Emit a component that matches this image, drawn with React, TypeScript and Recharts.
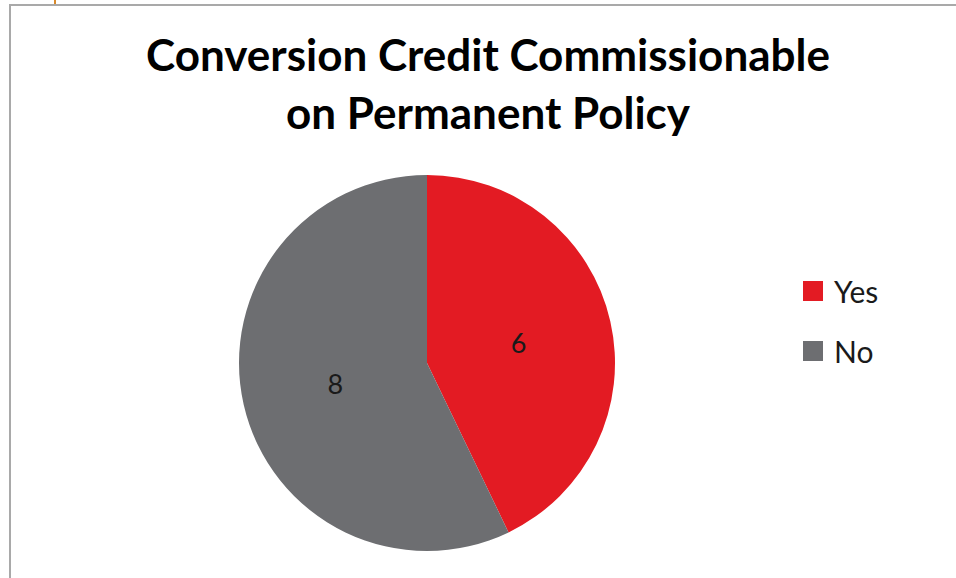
import { PieChart, Pie, Cell, Legend } from "recharts";

const categories = ["Yes", "No"];
const counts = [6, 8];
const sliceColors = ["#E31B23", "#6D6E71"];

const data = categories.map((name, i) => ({ name, value: counts[i] }));

const RADIAN = Math.PI / 180;

function renderLabel(props: any) {
  const { cx, cy, midAngle, outerRadius, value } = props;
  const r = outerRadius * 0.5;
  const x = cx + r * Math.cos(-midAngle * RADIAN);
  const y = cy + r * Math.sin(-midAngle * RADIAN);
  return (
    <text
      x={x}
      y={y}
      fill="#1a1a1a"
      fontSize={27}
      fontFamily="Lato, 'Open Sans', sans-serif"
      textAnchor="middle"
      dominantBaseline="central"
    >
      {value}
    </text>
  );
}

function LegendBox() {
  return (
    <div style={{ fontFamily: "Lato, 'Open Sans', sans-serif" }}>
      {categories.map((c, i) => (
        <div
          key={c}
          style={{
            display: "flex",
            alignItems: "center",
            height: 30,
            marginBottom: 30,
            fontSize: 30,
            color: "#1a1a1a"
          }}
        >
          <span
            style={{
              display: "inline-block",
              width: 20,
              height: 20,
              background: sliceColors[i],
              marginRight: 11
            }}
          />
          {c}
        </div>
      ))}
    </div>
  );
}

export default function App() {
  return (
    <div
      style={{
        position: "absolute",
        left: 0,
        top: 0,
        width: 956,
        height: 578,
        overflow: "hidden",
        background: "#fff"
      }}
    >
      <div
        style={{
          position: "absolute",
          left: 54,
          top: 0,
          width: 2,
          height: 5,
          background: "#d98a2b"
        }}
      />
      <div
        style={{
          position: "absolute",
          left: 9,
          top: 4,
          width: 1000,
          height: 700,
          borderTop: "2px solid #a9a9a9",
          borderLeft: "2px solid #a9a9a9"
        }}
      />
      <div
        style={{
          position: "absolute",
          left: 0,
          top: 25,
          width: 976,
          textAlign: "center",
          fontFamily: "Lato, 'Open Sans', sans-serif",
          fontWeight: 700,
          fontSize: 44,
          lineHeight: "58px",
          color: "#000"
        }}
      >
        Conversion Credit Commissionable
        <br />
        on Permanent Policy
      </div>
      <div style={{ position: "absolute", left: 0, top: 0 }}>
        <PieChart width={956} height={578}>
          <Pie
            data={data}
            dataKey="value"
            nameKey="name"
            cx={422}
            cy={358}
            outerRadius={188}
            startAngle={90}
            endAngle={-270}
            stroke="none"
            label={renderLabel}
            labelLine={false}
            isAnimationActive={false}
          >
            {data.map((d, i) => (
              <Cell key={d.name} fill={sliceColors[i]} />
            ))}
          </Pie>
          <Legend
            layout="vertical"
            align="right"
            verticalAlign="top"
            wrapperStyle={{ left: 803, top: 276, width: 140 }}
            content={() => <LegendBox />}
          />
        </PieChart>
      </div>
    </div>
  );
}
